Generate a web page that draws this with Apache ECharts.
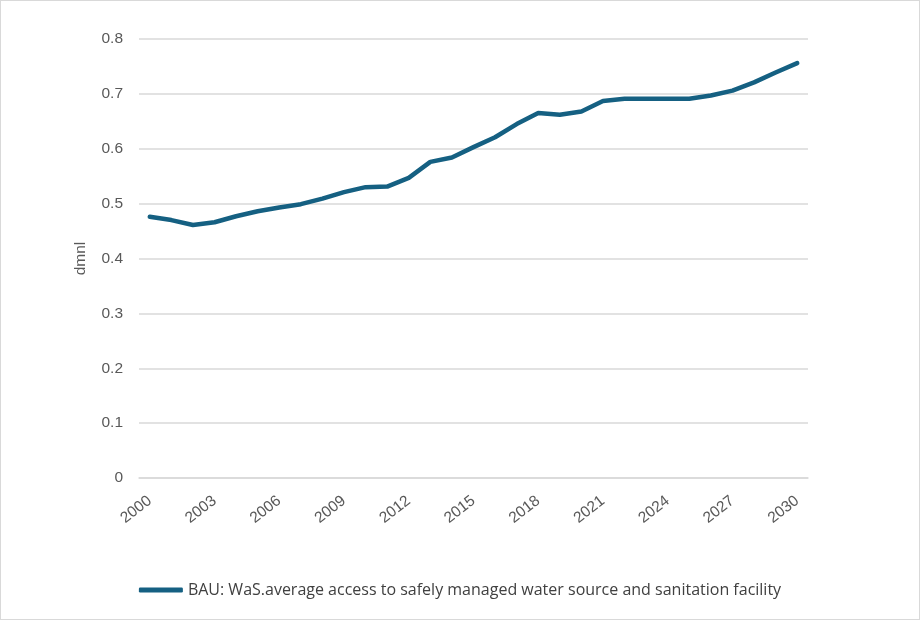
<!DOCTYPE html>
<html><head><meta charset="utf-8">
<script src="https://cdn.jsdelivr.net/npm/echarts@6/dist/echarts.min.js"></script>
<style>html,body{margin:0;padding:0;background:#fff}#c{width:920px;height:620px;box-sizing:border-box;border:1px solid #d9d9d9}</style>
</head><body><div id="c"></div>
<script>
const years = [];
for (let y = 2000; y <= 2030; y++) years.push(String(y));
const bau = [0.476,0.470,0.461,0.466,0.477,0.486,0.493,0.499,0.509,0.521,0.530,0.531,0.547,0.576,0.584,0.603,0.621,0.645,0.665,0.662,0.668,0.687,0.691,0.691,0.691,0.691,0.697,0.706,0.721,0.739,0.756];
const seriesName = 'BAU: WaS.average access to safely managed water source and sanitation facility';
const chart = echarts.init(document.getElementById('c'));
chart.setOption({
  animation: false,
  grid: {left: 138, right: 111, top: 38, bottom: 141},
  legend: {bottom: 16, left: 'center', itemWidth: 44, itemHeight: 5, itemGap: 4,
    icon: 'roundRect',
    textStyle: {fontFamily: 'Open Sans', fontSize: 16, color: '#404040', letterSpacing: -0.35},
    data: [seriesName]},
  xAxis: {type: 'category', data: years, boundaryGap: true,
    axisLine: {lineStyle: {color: '#d9d9d9', width: 1.5}},
    axisTick: {show: false},
    axisLabel: {interval: 2, rotate: 38, color: '#595959', fontFamily: 'Liberation Sans', fontSize: 15.5, margin: 21}},
  yAxis: {type: 'value', min: 0, max: 0.8, interval: 0.1, name: 'dmnl', nameLocation: 'middle', nameGap: 50,
    nameTextStyle: {color: '#595959', fontFamily: 'Liberation Sans', fontSize: 15.5},
    axisLine: {show: false}, axisTick: {show: false},
    splitLine: {lineStyle: {color: '#d9d9d9', width: 1.5}},
    axisLabel: {color: '#595959', fontFamily: 'Liberation Sans', fontSize: 15.5, margin: 16,
      formatter: v => String(Math.round(v*10)/10)}},
  series: [{name: seriesName, type: 'line', data: bau, showSymbol: false, symbol: 'none',
    lineStyle: {color: '#156082', width: 4.5, cap: 'round', join: 'round'}, itemStyle: {color: '#156082'}}]
});
</script></body></html>
